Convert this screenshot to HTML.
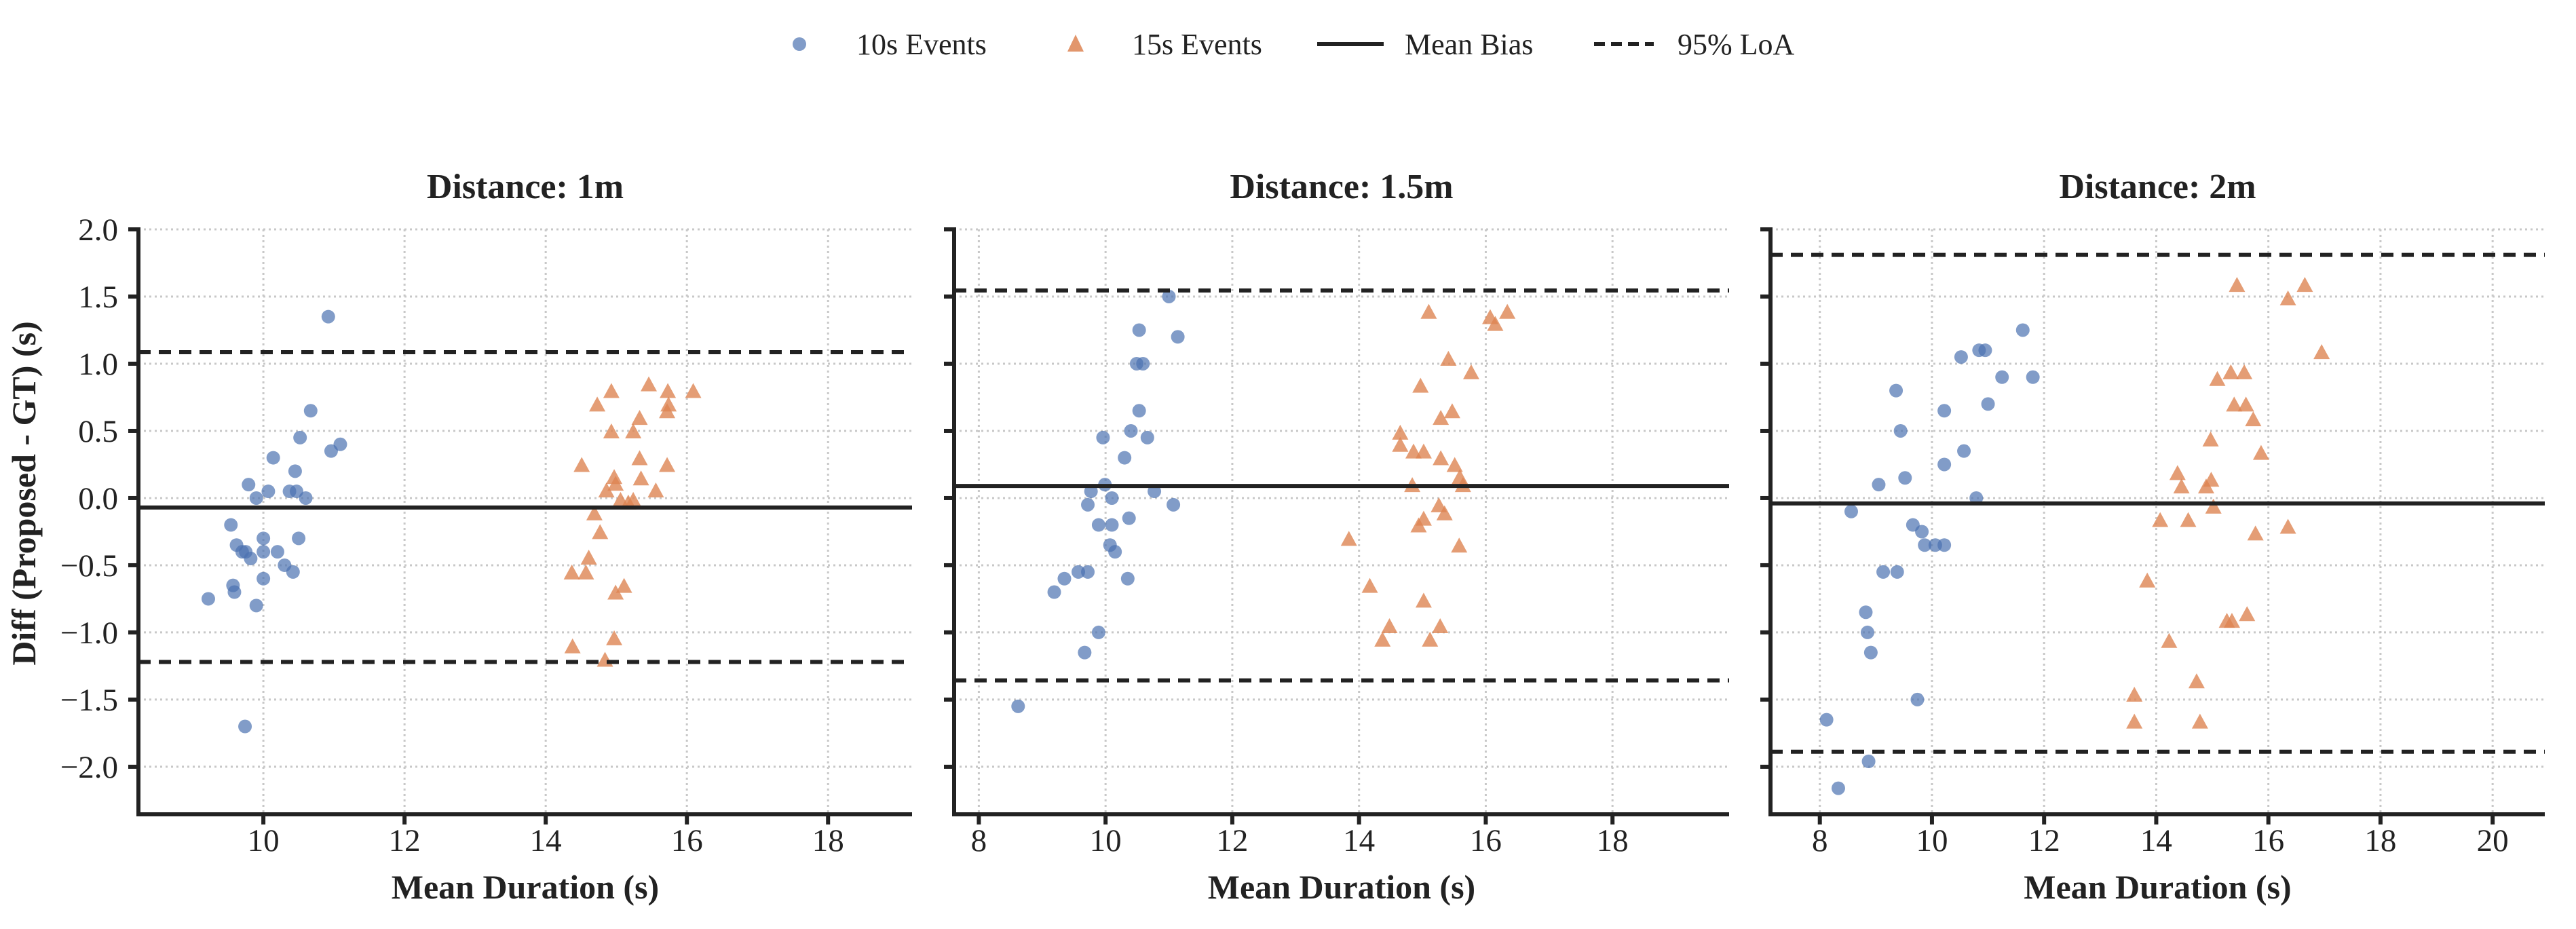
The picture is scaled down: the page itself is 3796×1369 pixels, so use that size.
<!DOCTYPE html>
<html><head><meta charset="utf-8"><style>
html,body{margin:0;padding:0;background:#fff;}
svg{display:block;font-family:"Liberation Serif","DejaVu Serif",serif;}
</style></head><body>
<svg id="chart" width="3796" height="1369" viewBox="0 0 3796 1369" xmlns="http://www.w3.org/2000/svg">
<g>
  <circle cx="1178" cy="65" r="10" fill="#4C72B0" fill-opacity="0.7"/>
  <text x="1262" y="80" font-size="44" fill="#222">10s Events</text>
  <polygon points="1585,51 1573,76 1597,76" fill="#DD8452" fill-opacity="0.85"/>
  <text x="1668" y="80" font-size="44" fill="#222">15s Events</text>
  <line x1="1941" y1="65" x2="2039" y2="65" stroke="#222" stroke-width="6"/>
  <text x="2070" y="80" font-size="44" fill="#222">Mean Bias</text>
  <line x1="2349" y1="65" x2="2437" y2="65" stroke="#222" stroke-width="6" stroke-dasharray="16,9"/>
  <text x="2472" y="80" font-size="44" fill="#222">95% LoA</text>
</g>
<text x="52" y="727" font-size="50" font-weight="bold" fill="#222" text-anchor="middle" transform="rotate(-90 52 727)">Diff (Proposed - GT) (s)</text>
</svg>
<script>
// ---- data ----
const panelTitles = ["Distance: 1m", "Distance: 1.5m", "Distance: 2m"];
const yTicks = [2.0, 1.5, 1.0, 0.5, 0.0, -0.5, -1.0, -1.5, -2.0];
const yTickLabels = ["2.0", "1.5", "1.0", "0.5", "0.0", "\u22120.5", "\u22121.0", "\u22121.5", "\u22122.0"];
const xTicks1 = [10, 12, 14, 16, 18];
const xTicks2 = [8, 10, 12, 14, 16, 18];
const xTicks3 = [8, 10, 12, 14, 16, 18, 20];
const meanBias = [-0.07, 0.09, -0.04];
const loaUpper = [1.086, 1.545, 1.81];
const loaLower = [-1.22, -1.357, -1.888];

const p1BlueX = [10.92,10.67,10.52,11.09,10.96,10.14,10.45,9.79,10.07,10.37,10.47,9.9,10.6,9.54,10.0,10.5,9.62,9.7,9.75,10.0,10.2,9.82,10.3,10.42,10.0,9.57,9.59,9.22,9.9,9.74];
const p1BlueY = [1.35,0.65,0.45,0.40,0.35,0.30,0.20,0.10,0.05,0.05,0.05,0,0,-0.2,-0.3,-0.3,-0.35,-0.4,-0.4,-0.4,-0.4,-0.45,-0.5,-0.55,-0.6,-0.65,-0.7,-0.75,-0.8,-1.70];
const p1OrangeX = [15.46,14.93,15.73,16.09,14.73,15.74,15.72,15.33,14.93,15.24,14.51,15.33,15.72,14.97,15.35,14.99,14.86,15.56,15.06,15.24,15.17,14.69,14.77,14.61,14.37,14.57,15.11,14.99,14.97,14.38,14.84];
const p1OrangeY = [0.84,0.79,0.79,0.79,0.69,0.69,0.64,0.59,0.49,0.49,0.24,0.29,0.24,0.15,0.14,0.10,0.05,0.05,-0.02,-0.02,-0.04,-0.12,-0.26,-0.45,-0.56,-0.56,-0.66,-0.71,-1.05,-1.11,-1.21];

const p2BlueX = [11.0,10.53,11.14,10.49,10.59,10.53,10.4,9.96,10.66,10.3,9.99,9.77,10.77,10.10,9.72,11.07,10.37,9.89,10.1,10.07,10.15,9.57,9.72,9.35,10.35,9.19,9.89,9.67,8.62];
const p2BlueY = [1.50,1.25,1.20,1.0,1.0,0.65,0.5,0.45,0.45,0.3,0.1,0.05,0.05,0,-0.05,-0.05,-0.15,-0.2,-0.2,-0.35,-0.4,-0.55,-0.55,-0.6,-0.6,-0.7,-1.0,-1.15,-1.55];
const p2OrangeX = [15.1,16.34,16.07,16.15,15.41,15.77,14.97,15.47,15.29,14.65,14.65,14.86,15.02,15.29,15.51,15.59,15.64,14.84,15.26,15.35,15.02,14.94,13.84,15.58,14.17,15.02,14.48,15.28,14.37,15.12];
const p2OrangeY = [1.38,1.38,1.34,1.29,1.03,0.93,0.83,0.64,0.59,0.48,0.39,0.34,0.34,0.29,0.24,0.15,0.09,0.09,-0.06,-0.12,-0.16,-0.21,-0.31,-0.36,-0.66,-0.77,-0.96,-0.96,-1.06,-1.06];

const p3BlueX = [11.62,10.84,10.95,10.52,11.25,11.8,9.36,11.0,10.22,9.44,10.57,10.22,9.52,9.05,10.79,8.56,9.66,9.82,9.87,10.06,10.22,9.13,9.38,8.82,8.85,8.91,9.74,8.12,8.87,8.33];
const p3BlueY = [1.25,1.10,1.10,1.05,0.9,0.9,0.8,0.7,0.65,0.5,0.35,0.25,0.15,0.1,0,-0.1,-0.2,-0.25,-0.35,-0.35,-0.35,-0.55,-0.55,-0.85,-1.0,-1.15,-1.5,-1.65,-1.96,-2.16];
const p3OrangeX = [15.44,16.65,16.35,16.95,15.33,15.57,15.09,15.39,15.6,15.73,14.97,15.87,14.38,14.98,14.45,14.89,15.02,14.07,14.57,16.35,15.77,13.84,15.62,15.26,15.35,14.23,14.72,13.61,13.61,14.78];
const p3OrangeY = [1.58,1.58,1.48,1.08,0.93,0.93,0.88,0.69,0.69,0.58,0.43,0.33,0.18,0.13,0.08,0.08,-0.07,-0.17,-0.17,-0.22,-0.27,-0.62,-0.87,-0.92,-0.92,-1.07,-1.37,-1.47,-1.67,-1.67];

// ---- layout ----
const NS = "http://www.w3.org/2000/svg";
const svg = document.getElementById("chart");
const yTop = 338, yBottom = 1200;
const yMin = -2.354, yMax = 2.0;
function yScale(v){ return yTop + (yMax - v) / (yMax - yMin) * (yBottom - yTop); }
function mk(tag, attrs, parent){
  const e = document.createElementNS(NS, tag);
  for (const k in attrs) e.setAttribute(k, attrs[k]);
  (parent || svg).appendChild(e);
  return e;
}
const panels = [
  {left:204, right:1344, xmin:8.23, xmax:19.19, xt:xTicks1, bx:p1BlueX, by:p1BlueY, ox:p1OrangeX, oy:p1OrangeY, labels:true},
  {left:1406, right:2548, xmin:7.61, xmax:19.84, xt:xTicks2, bx:p2BlueX, by:p2BlueY, ox:p2OrangeX, oy:p2OrangeY, labels:false},
  {left:2609, right:3750, xmin:7.12, xmax:20.93, xt:xTicks3, bx:p3BlueX, by:p3BlueY, ox:p3OrangeX, oy:p3OrangeY, labels:false}
];
panels.forEach((p, i) => {
  const xScale = v => p.left + (v - p.xmin) / (p.xmax - p.xmin) * (p.right - p.left);
  const g = mk("g", {});
  
  
  yTicks.forEach(t => {
    const l = mk("line", {x1:p.left, x2:p.right, y1:yScale(t), y2:yScale(t), stroke:"#c8c8c8", "stroke-width":3, "stroke-dasharray":"3,5"}, g);
    
    
  });
  p.xt.forEach(t => {
    const l = mk("line", {x1:xScale(t), x2:xScale(t), y1:yTop, y2:yBottom, stroke:"#c8c8c8", "stroke-width":3, "stroke-dasharray":"3,5"}, g);
    
    
  });
  p.bx.forEach((x, k) => {
    const c = mk("circle", {cx:xScale(x), cy:yScale(p.by[k]), r:10, fill:"#4C72B0", "fill-opacity":0.7}, g);
    
    
  });
  p.ox.forEach((x, k) => {
    const cx = xScale(x), cy = yScale(p.oy[k]);
    const t = mk("polygon", {points:(cx)+","+(cy-13)+" "+(cx-12)+","+(cy+9)+" "+(cx+12)+","+(cy+9), fill:"#DD8452", "fill-opacity":0.8}, g);
    
    
  });
  const mb = mk("line", {x1:p.left, x2:p.right, y1:yScale(meanBias[i]), y2:yScale(meanBias[i]), stroke:"#222", "stroke-width":6}, g);
  
  
  [loaUpper[i], loaLower[i]].forEach(v => {
    const l = mk("line", {x1:p.left, x2:p.right, y1:yScale(v), y2:yScale(v), stroke:"#222", "stroke-width":6, "stroke-dasharray":"18,12"}, g);
    
    
  });
  const sl = mk("line", {x1:p.left, x2:p.left, y1:yTop-3, y2:yBottom+3, stroke:"#222", "stroke-width":6}, g);
  
  
  const sb = mk("line", {x1:p.left-3, x2:p.right, y1:yBottom, y2:yBottom, stroke:"#222", "stroke-width":6}, g);
  
  
  yTicks.forEach((t, k) => {
    const tk = mk("line", {x1:p.left-15, x2:p.left, y1:yScale(t), y2:yScale(t), stroke:"#222", "stroke-width":6}, g);
    
    
    if (p.labels) {
      const tx = mk("text", {x:p.left-30, y:yScale(t)+16, "font-size":47, "text-anchor":"end", fill:"#222"}, g);
      tx.textContent = yTickLabels[k];
      
      
    }
  });
  p.xt.forEach(t => {
    const tk = mk("line", {x1:xScale(t), x2:xScale(t), y1:yBottom, y2:yBottom+15, stroke:"#222", "stroke-width":6}, g);
    
    
    const tx = mk("text", {x:xScale(t), y:yBottom+54, "font-size":47, "text-anchor":"middle", fill:"#222"}, g);
    tx.textContent = String(t);
    
    
  });
  const mid = (p.left + p.right) / 2;
  const title = mk("text", {x:mid, y:292, "font-size":52, "font-weight":"bold", "text-anchor":"middle", fill:"#222"}, g);
  title.textContent = panelTitles[i];
  
  
  const xl = mk("text", {x:mid, y:1324, "font-size":50, "font-weight":"bold", "text-anchor":"middle", fill:"#222"}, g);
  xl.textContent = "Mean Duration (s)";
  
  
});
</script>
</body></html>
